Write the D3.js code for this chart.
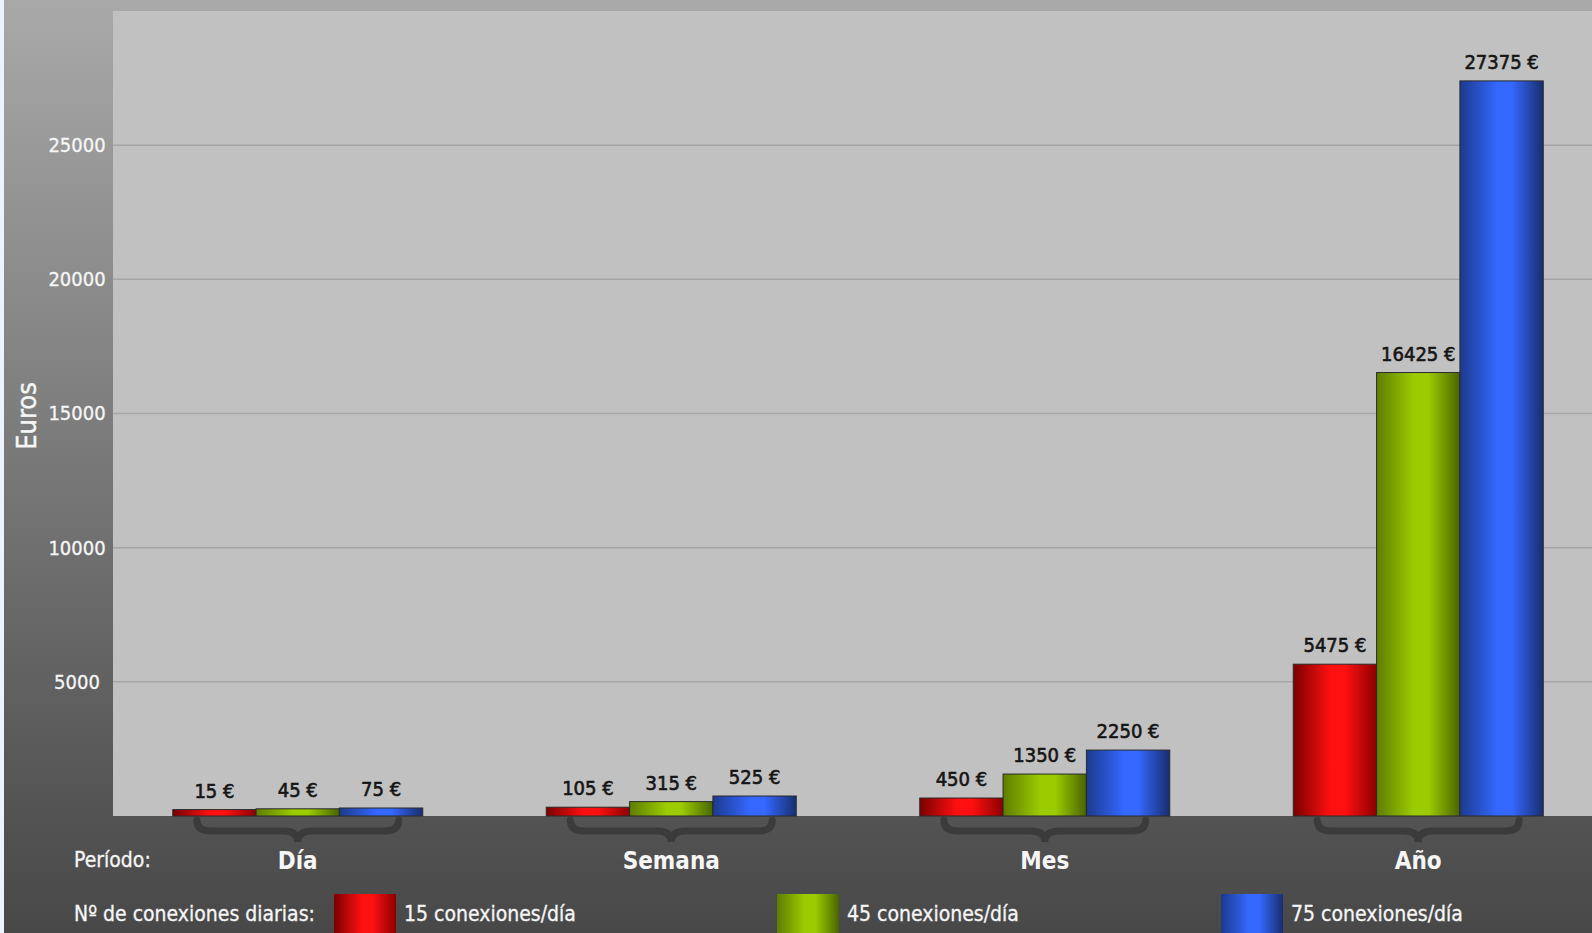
<!DOCTYPE html>
<html>
<head>
<meta charset="utf-8">
<script src="https://cdn.jsdelivr.net/npm/d3@7"></script>
<style>
  html, body { margin: 0; padding: 0; background: #eef2fa; }
  svg { display: block; font-family: 'DejaVu Sans Condensed', 'DejaVu Sans', sans-serif; }
</style>
</head>
<body>
<svg width="1592" height="933"></svg>
<script>
const periods = ['Día', 'Semana', 'Mes', 'Año'];
const seriesNames = ['15 conexiones/día', '45 conexiones/día', '75 conexiones/día'];
const values15 = [15, 105, 450, 5475];
const values45 = [45, 315, 1350, 16425];
const values75 = [75, 525, 2250, 27375];
const yTicks = [5000, 10000, 15000, 20000, 25000];

const seriesValues = [values15, values45, values75];
// edge / middle / far edge colours for the horizontal shading of each series
const seriesColors = [
  ['#7a0000', '#ff1010', '#8c0000'],
  ['#5f7d00', '#9ccc00', '#4a6400'],
  ['#1c3a8c', '#3468ff', '#172e6e']
];

const svg = d3.select('svg');
const defs = svg.append('defs');

seriesColors.forEach((c, i) => {
  const g = defs.append('linearGradient')
    .attr('id', 'grad' + i)
    .attr('x1', 0).attr('x2', 1).attr('y1', 0).attr('y2', 0);
  g.append('stop').attr('offset', '0%').attr('stop-color', c[0]);
  g.append('stop').attr('offset', '45%').attr('stop-color', c[1]);
  g.append('stop').attr('offset', '62%').attr('stop-color', c[1]);
  g.append('stop').attr('offset', '100%').attr('stop-color', c[2]);
});

const leftGrad = defs.append('linearGradient')
  .attr('id', 'leftGrad').attr('x1', 0).attr('x2', 0).attr('y1', 0).attr('y2', 1);
leftGrad.append('stop').attr('offset', '0%').attr('stop-color', '#a9a9a9');
leftGrad.append('stop').attr('offset', '100%').attr('stop-color', '#535353');

const bottomGrad = defs.append('linearGradient')
  .attr('id', 'bottomGrad').attr('x1', 0).attr('x2', 0).attr('y1', 0).attr('y2', 1);
bottomGrad.append('stop').attr('offset', '0%').attr('stop-color', '#535353');
bottomGrad.append('stop').attr('offset', '100%').attr('stop-color', '#484848');

const plot = { left: 113, top: 11, right: 1592, bottom: 816 };

// background panels
svg.append('rect').attr('x', 0).attr('y', 0).attr('width', 4).attr('height', 933).attr('fill', '#eef2fa');
svg.append('rect').attr('x', 4).attr('y', 0).attr('width', 1588).attr('height', plot.bottom)
  .attr('fill', 'url(#leftGrad)');
svg.append('rect').attr('x', 4).attr('y', 0).attr('width', 1588).attr('height', plot.top)
  .attr('fill', '#a8a8a8');
svg.append('rect').attr('x', 4).attr('y', plot.bottom).attr('width', 1588).attr('height', 933 - plot.bottom)
  .attr('fill', 'url(#bottomGrad)');
svg.append('rect')
  .attr('x', plot.left).attr('y', plot.top)
  .attr('width', plot.right - plot.left).attr('height', plot.bottom - plot.top)
  .attr('fill', '#c1c1c1');

const y = d3.scaleLinear().domain([0, 30000]).range([plot.bottom, plot.top]);
const x = d3.scaleBand().domain(periods).range([111, 1605]).padding(0);
const inner = d3.scaleBand().domain(d3.range(3))
  .range([x.bandwidth() / 2 - 125, x.bandwidth() / 2 + 125]).padding(0);

// grid
svg.append('g')
  .selectAll('line')
  .data(yTicks)
  .enter()
  .append('line')
  .attr('x1', plot.left).attr('x2', plot.right)
  .attr('y1', (d) => y(d)).attr('y2', (d) => y(d))
  .attr('stroke', '#a6a6a6').attr('stroke-width', 1.5);

const yAxis = svg.append('g')
  .attr('transform', `translate(77,0)`)
  .call(d3.axisLeft(y).tickValues(yTicks).tickSize(0).tickPadding(0).tickFormat(d3.format('d')));
yAxis.select('.domain').remove();
yAxis.selectAll('text')
  .attr('text-anchor', 'middle')
  .attr('fill', '#f6f6f6')
  .attr('stroke', '#f6f6f6')
  .attr('stroke-width', 0.3)
  .attr('font-size', 20)
  .attr('font-family', "'DejaVu Sans Condensed', sans-serif");

svg.append('text')
  .attr('transform', 'translate(36,416) rotate(-90)')
  .attr('text-anchor', 'middle')
  .attr('fill', '#f6f6f6')
  .attr('stroke', '#f6f6f6')
  .attr('stroke-width', 0.4)
  .attr('font-size', 27)
  .text('Euros');

// bars; small bars in the original carry a few extra pixels of base
const extra = (v) => 6 * (1 - v / y.domain()[1]);

const groups = svg.append('g')
  .selectAll('g')
  .data(periods)
  .enter()
  .append('g')
  .attr('transform', (d) => `translate(${x(d)},0)`);

groups.selectAll('rect')
  .data((d, i) => seriesValues.map((vals, s) => ({ s: s, v: vals[i] })))
  .enter()
  .append('rect')
  .attr('x', (d) => inner(d.s))
  .attr('y', (d) => y(d.v) - extra(d.v))
  .attr('width', inner.bandwidth())
  .attr('height', (d) => y(0) - y(d.v) + extra(d.v))
  .attr('fill', (d) => `url(#grad${d.s})`)
  .attr('stroke', '#2a2a2a')
  .attr('stroke-width', 1);

groups.selectAll('text.val')
  .data((d, i) => seriesValues.map((vals, s) => ({ s: s, v: vals[i] })))
  .enter()
  .append('text')
  .attr('class', 'val')
  .attr('x', (d) => inner(d.s) + inner.bandwidth() / 2)
  .attr('y', (d) => y(d.v) - extra(d.v) - 12)
  .attr('text-anchor', 'middle')
  .attr('font-size', 20)
  .attr('fill', '#151515')
  .attr('stroke', '#151515')
  .attr('stroke-width', 0.6)
  .text((d) => d.v + ' €');

// braces under each period
const brace = (cx) => {
  const w = 101, t = 820, m = 831, b = 842;
  return `M${cx - w},${t} Q${cx - w},${m} ${cx - w + 14},${m} L${cx - 14},${m} Q${cx},${m} ${cx},${b}` +
    ` Q${cx},${m} ${cx + 14},${m} L${cx + w - 14},${m} Q${cx + w},${m} ${cx + w},${t}`;
};
groups.append('path')
  .attr('d', brace(x.bandwidth() / 2))
  .attr('fill', 'none')
  .attr('stroke', '#3b3b3b')
  .attr('stroke-width', 7)
  .attr('stroke-linecap', 'round');

groups.append('text')
  .attr('x', x.bandwidth() / 2)
  .attr('y', 869)
  .attr('text-anchor', 'middle')
  .attr('font-size', 24)
  .attr('font-weight', 'bold')
  .attr('fill', '#f6f6f6')
  .text((d) => d);

svg.append('text')
  .attr('x', 74).attr('y', 867)
  .attr('fill', '#f6f6f6')
  .attr('stroke', '#f6f6f6')
  .attr('stroke-width', 0.3)
  .attr('font-size', 21)
  .text('Período:');

// legend
svg.append('text')
  .attr('x', 74).attr('y', 921)
  .attr('fill', '#f6f6f6')
  .attr('stroke', '#f6f6f6')
  .attr('stroke-width', 0.3)
  .attr('font-size', 21)
  .text('Nº de conexiones diarias:');

const legendX = [334, 777, 1221];
const legend = svg.append('g')
  .selectAll('g')
  .data(seriesNames)
  .enter()
  .append('g')
  .attr('transform', (d, i) => `translate(${legendX[i]},894)`);

legend.append('rect')
  .attr('width', 62).attr('height', 39)
  .attr('fill', (d, i) => `url(#grad${i})`);

legend.append('text')
  .attr('x', 70).attr('y', 27)
  .attr('fill', '#f6f6f6')
  .attr('stroke', '#f6f6f6')
  .attr('stroke-width', 0.3)
  .attr('font-size', 21)
  .text((d) => d);
</script>
</body>
</html>
